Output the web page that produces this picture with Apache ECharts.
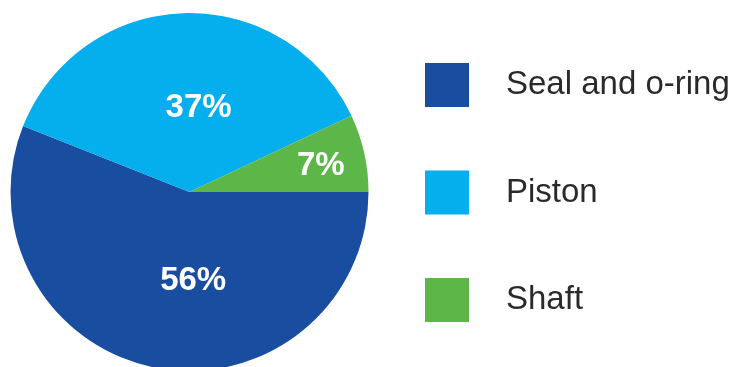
<!DOCTYPE html>
<html>
<head>
	<meta charset="utf-8" />
	<title>Pie</title>
	<script src="https://cdn.jsdelivr.net/npm/echarts@6/dist/echarts.min.js"></script>
	<style>
		html, body { margin: 0; padding: 0; background: #fff; }
		#chartmain { width: 744px; height: 367px; }
	</style>
</head>
<body>
	<div id="chartmain"></div>
</body>
<script type="text/javascript">
	// 数据
	var names = ['Seal and o-ring', 'Piston', 'Shaft'];
	var values = [56, 37, 7];
	var colors = ['#194d9f', '#05aeec', '#5cb748'];
	// 标签微调 (px)
	var labelOffsets = [[21, -2], [12, 8], [41, -6]];

	var myChart = echarts.init(document.getElementById('chartmain'));

	var option = {
		animation: false,
		legend: {
			orient: 'vertical',
			left: 425,
			top: 63,
			padding: 0,
			icon: 'rect',
			itemWidth: 44,
			itemHeight: 44,
			itemGap: 63.5,
			selectedMode: false,
			data: names,
			textStyle: {
				fontFamily: 'Liberation Sans',
				fontSize: 33,
				color: '#2a2a2a',
				padding: [0, 0, 0, 32]
			}
		},
		series: [{
			type: 'pie',
			center: [189.5, 192],
			radius: 179,
			startAngle: 0,
			clockwise: true,
			silent: true,
			label: {
				position: 'inside',
				formatter: '{c}%',
				fontFamily: 'Liberation Sans',
				fontWeight: 'bold',
				fontSize: 33,
				color: '#fff'
			},
			labelLine: { show: false },
			data: names.map(function (n, i) {
				return {
					name: n,
					value: values[i],
					itemStyle: { color: colors[i] },
					label: { offset: labelOffsets[i] }
				};
			})
		}]
	};
	myChart.setOption(option);
</script>
</html>
